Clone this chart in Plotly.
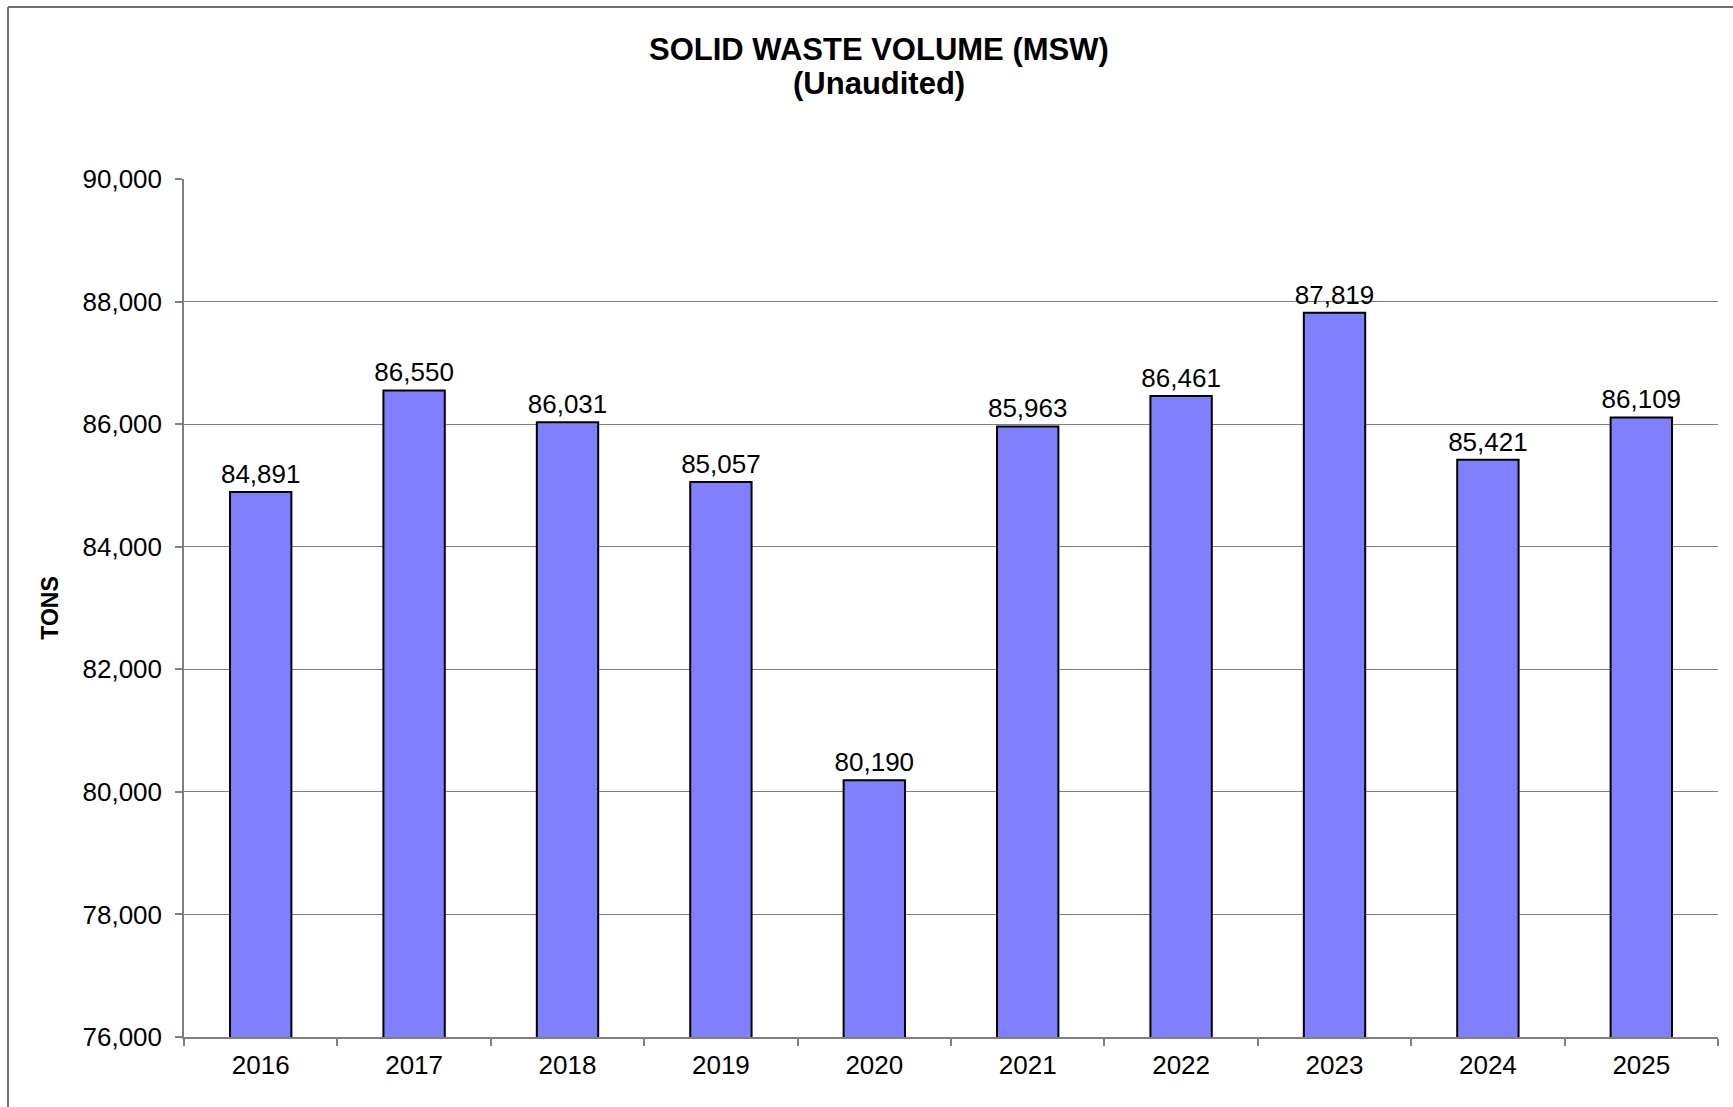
import plotly.graph_objects as go

years = ["2016", "2017", "2018", "2019", "2020", "2021", "2022", "2023", "2024", "2025"]
tons = [84891, 86550, 86031, 85057, 80190, 85963, 86461, 87819, 85421, 86109]
y_ticks = [76000, 78000, 80000, 82000, 84000, 86000, 88000, 90000]
title_lines = ["SOLID WASTE VOLUME (MSW)", "(Unaudited)"]

W, H = 1733, 1107
L, R, T, B = 184, 15, 179, 70
pw, ph = W - L - R, H - T - B

FONT = "Liberation Sans, Arial, sans-serif"

fig = go.Figure(go.Bar(
    x=years, y=tons,
    marker=dict(color="#8080FF", line=dict(color="black", width=2)),
    width=0.4,
    texttemplate="%{y:,}", textposition="outside",
    textfont=dict(family=FONT, size=26, color="black"),
    constraintext="none",
    cliponaxis=False,
))

fig.update_layout(
    width=W, height=H,
    margin=dict(l=L, r=R, t=T, b=B),
    paper_bgcolor="white", plot_bgcolor="white",
    showlegend=False,
    font=dict(family=FONT, color="black"),
    bargap=0.6,
)

for line, yc in zip(title_lines, [50, 83]):
    fig.add_annotation(
        text="<b>" + line + "</b>",
        xref="paper", yref="paper",
        x=(879 - L) / pw, y=(H - B - yc) / ph,
        xanchor="center", yanchor="middle",
        showarrow=False,
        font=dict(family=FONT, size=31, color="black"),
    )

fig.update_xaxes(
    showline=True, linecolor="#808080", linewidth=1.5,
    ticks="outside", tickson="boundaries", ticklen=7, tickcolor="#808080", tickwidth=1.5,
    ticklabelstandoff=4,
    tickfont=dict(family=FONT, size=26, color="black"),
    showgrid=False,
)
fig.update_yaxes(
    range=[76000, 90000], tickvals=y_ticks, tickformat=",",
    showline=True, linecolor="#808080", linewidth=1.5,
    ticks="outside", ticklen=7, tickcolor="#808080", tickwidth=1.5,
    ticklabelstandoff=8,
    tickfont=dict(family=FONT, size=26, color="black"),
    showgrid=True, gridcolor="#808080", gridwidth=1.2,
    zeroline=False,
    title=dict(text="<b>TONS</b>", font=dict(family=FONT, size=23, color="black"), standoff=17),
)

# outer frame (left and top edges visible)
fx0 = (8 - L) / pw
fy1 = (H - B - 7) / ph
fig.add_shape(type="line", xref="paper", yref="paper", x0=fx0, x1=fx0, y0=-1, y1=fy1,
              line=dict(color="#707070", width=2))
fig.add_shape(type="line", xref="paper", yref="paper", x0=fx0, x1=2, y0=fy1, y1=fy1,
              line=dict(color="#707070", width=2))

fig.write_html("out.html")
